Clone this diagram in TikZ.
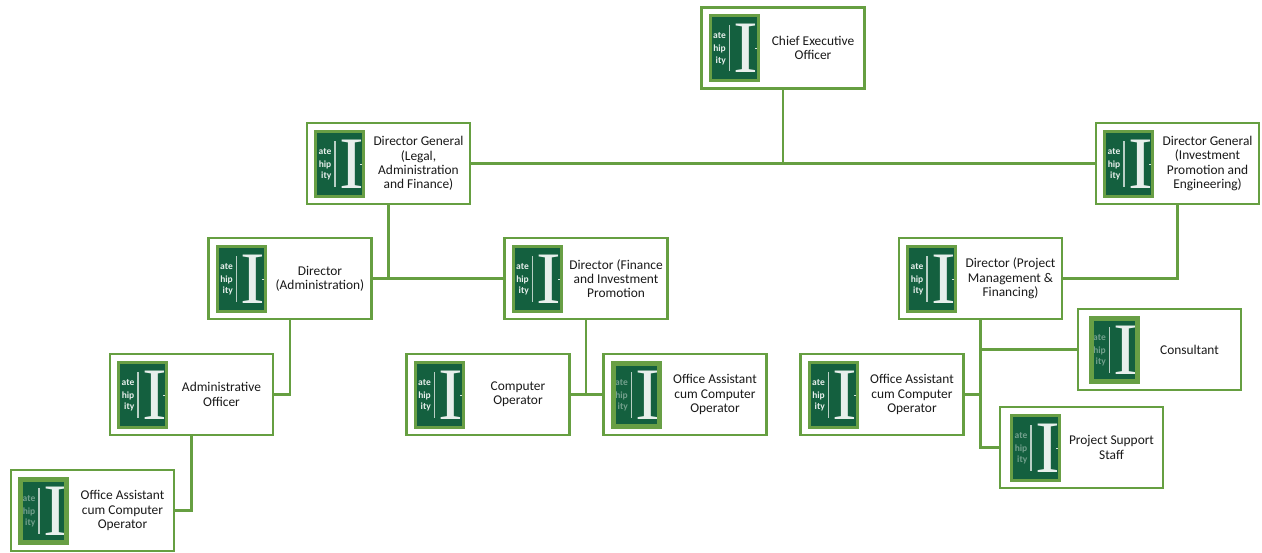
\documentclass[tikz,border=0pt]{standalone}
\usepackage{fontspec}
\setmainfont{Carlito}
\newfontfamily\logofont{Liberation Serif}
\usepackage{xcolor}
\usepackage{tikz}
\usetikzlibrary{positioning}

\definecolor{orgline}{HTML}{669F41}
\definecolor{logogreen}{HTML}{14603F}
\definecolor{logoedge}{HTML}{689F45}

\tikzset{
  orglogo/.pic={
    \fill [logoedge] (7pt,-34pt) rectangle (58pt,34pt);
    \fill [logogreen] (10pt,-31pt) rectangle (55pt,31pt);
    \draw [white!70!logogreen, line width=1.6pt] (28pt,-23pt) -- (28pt,23pt);
    \node [logoword] at (24.5pt,12pt) {ate};
    \node [logoword] at (24.5pt,-1pt) {hip};
    \node [logoword] at (24.5pt,-12.5pt) {ity};
    \node [logoletter] at (44.5pt,-0.5pt) {I};
    \fill [white!85!logogreen] (53pt,-1pt) rectangle (55pt,0pt);
  },
  blurlogo/.pic={
    \pic [faintwords] {orglogo};
    \draw [logoedge, line width=5pt] (9.5pt,-31.5pt) rectangle (55.5pt,31.5pt);
  },
  faintwords/.style={logoword/.append style={opacity=0.45}}
}

\begin{document}
\begin{tikzpicture}[
        orgbox/.style={rectangle, draw=orgline, line width=2.4pt, fill=white, outer sep=0pt, inner sep=0pt,
                     minimum width=163pt, minimum height=81pt,
                     label={[orgtext]center:{#1}}},
        orgtext/.style={align=center, xshift=30pt, font=\fontsize{13.4}{14.3}\selectfont, text=black!90},
        logoword/.style={anchor=east, inner sep=0pt, text=white!90!logogreen, font=\fontsize{9.5}{10}\selectfont\bfseries},
        logoletter/.style={inner sep=0pt, text=white!90!logogreen, font=\fontsize{74}{74}\logofont},
        line/.style={draw=orgline, line width=2.4pt}
      ]
        \useasboundingbox (0,0) rectangle (1262pt,-552pt);

        % Top level
        \node [orgbox={Chief Executive\\Officer}] (ceo) at (783pt,-48pt) {};

        % Directors general
        \node [orgbox={Director General\\(Legal,\\Administration\\and Finance)}, below left=34.5pt and 231.5pt of ceo] (legal) {};
        \node [orgbox={Director General\\(Investment\\Promotion and\\Engineering)}, below right=34.5pt and 231.5pt of ceo] (invest) {};

        % Directors
        \node [orgbox={Director\\(Administration)}, below=34pt of legal, xshift=-98.5pt] (diradmin) {};
        \node [orgbox={Director (Finance\\and Investment\\Promotion}, right=133pt of diradmin] (dirfin) {};
        \node [orgbox={Director (Project\\Management \&\\Financing)}, below=34pt of invest, xshift=-197pt] (dirpm) {};

        % Staff
        \node [orgbox={Administrative\\Officer}, below=35pt of diradmin, xshift=-98.5pt] (adminoff) {};
        \node [orgbox={Office Assistant\\cum Computer\\Operator}, below=35pt of adminoff, xshift=-99pt] (oaadmin) {};
        \node [orgbox={Computer\\Operator}, below=35pt of dirfin, xshift=-98pt] (compop) {};
        \node [orgbox={Office Assistant\\cum Computer\\Operator}, right=34pt of compop] (oafin) {};
        \node [orgbox={Office Assistant\\cum Computer\\Operator}, below=35pt of dirpm, xshift=-98.5pt] (oaproject) {};
        \node [orgbox={Consultant}, below right=-10pt and 16pt of dirpm] (consultant) {};
        \node [orgbox={Project Support\\Staff}, below=17pt of consultant, xshift=-78pt] (support) {};

        % Logos
        \foreach \n in {ceo,legal,invest,diradmin,dirfin,dirpm,adminoff,compop,oaproject}
          \pic at (\n.west) {orglogo};
        \foreach \n in {oaadmin,oafin}
          \pic at (\n.west) {blurlogo};
        \pic at ([xshift=3.5pt]consultant.west) {blurlogo};
        \pic [faintwords] at ([xshift=3pt]support.west) {orglogo};

        % Lines
        \draw [line] (legal) -- (invest);
        \draw [line] (ceo) -- (ceo |- legal);
        \draw [line] (legal) -- (legal |- diradmin);
        \draw [line] (diradmin) -- (dirfin);
        \draw [line] (invest) |- (dirpm);
        \draw [line] (diradmin) |- (adminoff);
        \draw [line] (adminoff) |- (oaadmin);
        \draw [line] (dirfin) -- (dirfin |- compop);
        \draw [line] (compop) -- (oafin);
        \draw [line] (dirpm) |- (support);
        \draw [line] (consultant) -- (dirpm |- consultant);
        \draw [line] (oaproject) -- (dirpm |- oaproject);
      \end{tikzpicture}
\end{document}
